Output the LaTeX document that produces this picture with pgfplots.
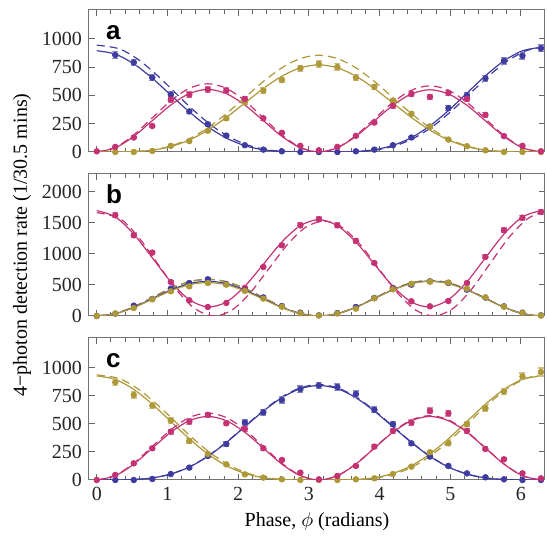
\documentclass[border=0pt]{standalone}
\usepackage{fontspec}
\setmainfont{Liberation Serif}
\newfontfamily\helv{Liberation Sans}
\usepackage{pgfplots}
\pgfplotsset{compat=1.18}
\usepgfplotslibrary{groupplots}

\definecolor{cB}{RGB}{62,60,160}
\definecolor{cM}{RGB}{196,50,116}
\definecolor{cO}{RGB}{174,152,56}

\pgfplotsset{
  panel/.style={
    scale only axis, width=228pt, height=71pt,
    xmin=-0.11, xmax=6.34, ymin=0,
    xtick={0,1,...,6}, minor x tick num=4,
    tick align=inside,
    axis line style={black!55, line width=0.5pt},
    major tick style={black!60, line width=0.5pt},
    minor tick style={black!60, line width=0.5pt},
    major tick length=3pt, minor tick length=2pt,
    ticklabel style={text=black!85, font=\rmfamily},
    /pgf/number format/assume math mode=true,
    /pgf/number format/1000 sep={},
  },
  fit/.style={smooth, no marks, line width=0.6pt},
  theo/.style={smooth, no marks, line width=0.6pt, dash pattern=on 4pt off 2.5pt},
  dat/.style={only marks, mark=*, mark size=1.4pt,
    error bars/y dir=both, error bars/y explicit,
    error bars/error mark options={rotate=90, mark size=1.5pt, line width=0.6pt}},
}
\tikzset{lab/.style={anchor=base west, font=\helv\bfseries\fontsize{13}{13}\selectfont}}

\begin{document}
\begin{tikzpicture}
\begin{groupplot}[
  group style={group size=1 by 3, vertical sep=11pt, xticklabels at=edge bottom},
  panel,
]
% ---------------- a ----------------
\nextgroupplot[ymax=1255, ytick={0,250,...,1000}]
\addplot[theo, cB] coordinates {(0,944) (0.3118,913) (0.5736,823) (0.8354,689) (1.0972,532) (1.359,374) (1.6208,236) (1.8826,130) (2.1444,59) (2.4062,20) (2.668,4) (2.9298,0) (3.1916,0) (3.4534,0) (3.7152,4) (3.977,20) (4.2388,58) (4.5006,127) (4.7624,231) (5.0242,366) (5.286,520) (5.5478,674) (5.8096,805) (6.0714,894) (6.2832,924)};
\addplot[fit, cB] coordinates {(0,895) (0.2618,865) (0.5236,779) (0.7854,652) (1.0472,503) (1.309,355) (1.5708,224) (1.8326,123) (2.0944,56) (2.3562,19) (2.618,4) (2.8798,0) (3.1416,0) (3.4034,0) (3.6652,4) (3.927,20) (4.1888,58) (4.4506,127) (4.7124,231) (4.9742,366) (5.236,520) (5.4978,674) (5.7596,805) (6.0214,894) (6.2832,925)};
\addplot[theo, cM] coordinates {(0,0) (0.2618,40) (0.5236,151) (0.7854,302) (1.0472,452) (1.309,563) (1.5708,603) (1.8326,563) (2.0944,452) (2.3562,302) (2.618,151) (2.8798,40) (3.1416,0) (3.4034,39) (3.6652,146) (3.927,293) (4.1888,439) (4.4506,546) (4.7124,585) (4.9742,546) (5.236,439) (5.4978,293) (5.7596,146) (6.0214,39) (6.2832,0)};
\addplot[fit, cM] coordinates {(0,0) (0.2618,37) (0.5236,138) (0.7854,277) (1.0472,415) (1.309,516) (1.5708,553) (1.8326,516) (2.0944,415) (2.3562,277) (2.618,138) (2.8798,37) (3.1416,0) (3.4034,37) (3.6652,138) (3.927,275) (4.1888,413) (4.4506,513) (4.7124,550) (4.9742,513) (5.236,413) (5.4978,275) (5.7596,138) (6.0214,37) (6.2832,0)};
\addplot[theo, cO] coordinates {(0,0) (0.2618,0) (0.5236,4) (0.7854,18) (1.0472,53) (1.309,117) (1.5708,214) (1.8326,339) (2.0944,481) (2.3562,623) (2.618,744) (2.8798,826) (3.1416,855) (3.4034,826) (3.6652,744) (3.927,623) (4.1888,481) (4.4506,339) (4.7124,214) (4.9742,117) (5.236,53) (5.4978,18) (5.7596,4) (6.0214,0) (6.2832,0)};
\addplot[fit, cO] coordinates {(0,0) (0.2618,0) (0.5236,3) (0.7854,16) (1.0472,48) (1.309,106) (1.5708,193) (1.8326,305) (2.0944,433) (2.3562,561) (2.618,670) (2.8798,744) (3.1416,770) (3.4034,744) (3.6652,670) (3.927,561) (4.1888,433) (4.4506,305) (4.7124,193) (4.9742,106) (5.236,48) (5.4978,16) (5.7596,3) (6.0214,0) (6.2832,0)};
\addplot[dat, cB, error bars/error bar style={cB!60}] table[row sep=\\, x index=0, y index=1, y error index=2] {
0.2618 857 29\\ 0.5236 791 28\\ 0.7854 657 26\\ 1.0472 507 23\\ 1.309 358 19\\ 1.5708 245 16\\ 1.8326 145 12\\ 2.0944 60 8\\ 2.3562 21 5\\ 2.618 6 3\\ 2.8798 0 2\\ 3.1416 0 2\\ 3.4034 0 2\\ 3.6652 6 3\\ 3.927 21 5\\ 4.1888 60 8\\ 4.4506 128 11\\ 4.7124 224 15\\ 4.9742 388 20\\ 5.236 501 22\\ 5.4978 651 26\\ 5.7596 806 28\\ 6.0214 851 29\\ 6.2832 916 30\\
};
\addplot[dat, cO, error bars/error bar style={cO!60}] table[row sep=\\, x index=0, y index=1, y error index=2] {
0.2618 0 2\\ 0.5236 0 2\\ 0.7854 9 3\\ 1.0472 54 7\\ 1.309 96 10\\ 1.5708 188 14\\ 1.8326 298 17\\ 2.0944 439 21\\ 2.3562 543 23\\ 2.618 636 25\\ 2.8798 740 27\\ 3.1416 776 28\\ 3.4034 752 27\\ 3.6652 657 26\\ 3.927 576 24\\ 4.1888 454 21\\ 4.4506 337 18\\ 4.7124 224 15\\ 4.9742 110 10\\ 5.236 51 7\\ 5.4978 15 4\\ 5.7596 0 2\\ 6.0214 0 2\\ 6.2832 0 2\\
};
\addplot[dat, cM, error bars/error bar style={cM!60}] table[row sep=\\, x index=0, y index=1, y error index=2] {
0 6 3\\ 0.2618 45 7\\ 0.5236 128 11\\ 0.7854 230 15\\ 1.0472 463 22\\ 1.309 507 23\\ 1.5708 552 23\\ 1.8326 543 23\\ 2.0944 469 22\\ 2.3562 298 17\\ 2.618 170 13\\ 2.8798 54 7\\ 3.1416 15 4\\ 3.4034 45 7\\ 3.6652 143 12\\ 3.927 260 16\\ 4.1888 409 20\\ 4.4506 513 23\\ 4.7124 487 22\\ 4.9742 522 23\\ 5.236 469 22\\ 5.4978 328 18\\ 5.7596 140 12\\ 6.0214 54 7\\ 6.2832 6 3\\
};
\node[lab] at (rel axis cs:0.022,0.789) {a};
% ---------------- b ----------------
\nextgroupplot[ymax=2290, ytick={0,500,...,2000},
  ylabel={4−photon detection rate (1/30.5 mins)},
  ylabel style={at={(rel axis cs:-0.147,0.5)}, anchor=center}]
\addplot[theo, cM] coordinates {(0,1668) (0.3318,1567) (0.5936,1266) (0.8554,853) (1.1172,437) (1.379,126) (1.6408,0) (1.9026,89) (2.1644,365) (2.4262,751) (2.688,1140) (2.9498,1427) (3.2116,1532) (3.4734,1427) (3.7352,1140) (3.997,751) (4.2588,365) (4.5206,89) (4.7824,0) (5.0442,126) (5.306,437) (5.5678,853) (5.8296,1266) (6.0914,1567) (6.2832,1668)};
\addplot[fit, cM] coordinates {(0,1700) (0.2618,1598) (0.5236,1320) (0.7854,938) (1.0472,552) (1.309,263) (1.5708,145) (1.8326,225) (2.0944,479) (2.3562,834) (2.618,1193) (2.8798,1457) (3.1416,1554) (3.4034,1457) (3.6652,1193) (3.927,834) (4.1888,479) (4.4506,225) (4.7124,145) (4.9742,263) (5.236,552) (5.4978,938) (5.7596,1320) (6.0214,1598) (6.2832,1700)};
\addplot[theo, cB] coordinates {(0,0) (0.2618,40) (0.5236,148) (0.7854,297) (1.0472,445) (1.309,553) (1.5708,593) (1.8326,553) (2.0944,445) (2.3562,297) (2.618,148) (2.8798,40) (3.1416,0) (3.4034,38) (3.6652,143) (3.927,287) (4.1888,430) (4.4506,535) (4.7124,573) (4.9742,535) (5.236,430) (5.4978,287) (5.7596,143) (6.0214,38) (6.2832,0)};
\addplot[theo, cO] coordinates {(0,0) (0.2618,40) (0.5236,148) (0.7854,297) (1.0472,445) (1.309,553) (1.5708,593) (1.8326,553) (2.0944,445) (2.3562,297) (2.618,148) (2.8798,40) (3.1416,0) (3.4034,38) (3.6652,143) (3.927,287) (4.1888,430) (4.4506,535) (4.7124,573) (4.9742,535) (5.236,430) (5.4978,287) (5.7596,143) (6.0214,38) (6.2832,0)};
\addplot[fit, cB] coordinates {(0,0) (0.2618,38) (0.5236,140) (0.7854,280) (1.0472,420) (1.309,522) (1.5708,560) (1.8326,522) (2.0944,420) (2.3562,280) (2.618,140) (2.8798,38) (3.1416,0) (3.4034,38) (3.6652,141) (3.927,283) (4.1888,424) (4.4506,527) (4.7124,565) (4.9742,527) (5.236,424) (5.4978,283) (5.7596,141) (6.0214,38) (6.2832,0)};
\addplot[fit, cO] coordinates {(0,0) (0.2618,36) (0.5236,135) (0.7854,270) (1.0472,405) (1.309,504) (1.5708,540) (1.8326,504) (2.0944,405) (2.3562,270) (2.618,135) (2.8798,36) (3.1416,0) (3.4034,38) (3.6652,140) (3.927,280) (4.1888,420) (4.4506,522) (4.7124,560) (4.9742,522) (5.236,420) (5.4978,280) (5.7596,140) (6.0214,38) (6.2832,0)};
\addplot[dat, cM, error bars/error bar style={cM!60}] table[row sep=\\, x index=0, y index=1, y error index=2] {
0.2618 1624 40\\ 0.5236 1301 36\\ 0.7854 1022 32\\ 1.0472 548 23\\ 1.309 253 16\\ 1.5708 145 12\\ 1.8326 210 14\\ 2.0944 452 21\\ 2.3562 790 28\\ 2.618 1140 34\\ 2.8798 1462 38\\ 3.1416 1559 39\\ 3.4034 1462 38\\ 3.6652 1210 35\\ 3.927 855 29\\ 4.1888 452 21\\ 4.4506 237 15\\ 4.7124 156 12\\ 4.9742 242 16\\ 5.236 532 23\\ 5.4978 952 31\\ 5.7596 1382 37\\ 6.0214 1586 40\\ 6.2832 1677 41\\
};
\addplot[dat, cB, error bars/error bar style={cB!60}] table[row sep=\\, x index=0, y index=1, y error index=2] {
0 0 2\\ 0.2618 38 6\\ 0.5236 167 13\\ 0.7854 275 17\\ 1.0472 441 21\\ 1.309 532 23\\ 1.5708 591 24\\ 1.8326 515 23\\ 2.0944 414 20\\ 2.3562 300 17\\ 2.618 161 13\\ 2.8798 54 7\\ 3.1416 11 3\\ 3.4034 48 7\\ 3.6652 145 12\\ 3.927 290 17\\ 4.1888 441 21\\ 4.4506 505 22\\ 4.7124 559 24\\ 4.9742 532 23\\ 5.236 425 21\\ 5.4978 296 17\\ 5.7596 156 12\\ 6.0214 54 7\\ 6.2832 11 3\\
};
\addplot[dat, cO, error bars/error bar style={cO!60}] table[row sep=\\, x index=0, y index=1, y error index=2] {
0 0 2\\ 0.2618 40 6\\ 0.5236 129 11\\ 0.7854 269 16\\ 1.0472 398 20\\ 1.309 478 22\\ 1.5708 532 23\\ 1.8326 505 22\\ 2.0944 405 20\\ 2.3562 280 17\\ 2.618 150 12\\ 2.8798 45 7\\ 3.1416 8 3\\ 3.4034 40 6\\ 3.6652 118 11\\ 3.927 285 17\\ 4.1888 430 21\\ 4.4506 520 23\\ 4.7124 555 24\\ 4.9742 540 23\\ 5.236 440 21\\ 5.4978 300 17\\ 5.7596 150 12\\ 6.0214 50 7\\ 6.2832 8 3\\
};
\node[lab] at (rel axis cs:0.022,0.789) {b};
% ---------------- c ----------------
\nextgroupplot[ymax=1262, ytick={0,250,...,1000},
  xlabel={Phase, $\phi$ (radians)},
  xlabel style={at={(rel axis cs:0.5,0)}, anchor=center, yshift=-21pt}]
\addplot[theo, cO] coordinates {(0,934) (0.3118,903) (0.5736,814) (0.8354,681) (1.0972,526) (1.359,370) (1.6208,234) (1.8826,128) (2.1444,58) (2.4062,20) (2.668,4) (2.9298,0) (3.1916,0) (3.4534,0) (3.7152,4) (3.977,20) (4.2388,58) (4.5006,128) (4.7624,234) (5.0242,370) (5.286,526) (5.5478,681) (5.8096,814) (6.0714,903) (6.2832,934)};
\addplot[fit, cO] coordinates {(0,925) (0.2618,894) (0.5236,805) (0.7854,674) (1.0472,520) (1.309,366) (1.5708,231) (1.8326,127) (2.0944,58) (2.3562,20) (2.618,4) (2.8798,0) (3.1416,0) (3.4034,0) (3.6652,4) (3.927,20) (4.1888,58) (4.4506,127) (4.7124,231) (4.9742,366) (5.236,520) (5.4978,674) (5.7596,805) (6.0214,894) (6.2832,925)};
\addplot[theo, cB] coordinates {(0,0) (0.2618,0) (0.5236,4) (0.7854,18) (1.0472,53) (1.309,116) (1.5708,212) (1.8326,336) (2.0944,477) (2.3562,618) (2.618,738) (2.8798,819) (3.1416,848) (3.4034,819) (3.6652,738) (3.927,618) (4.1888,477) (4.4506,336) (4.7124,212) (4.9742,116) (5.236,53) (5.4978,18) (5.7596,4) (6.0214,0) (6.2832,0)};
\addplot[fit, cB] coordinates {(0,0) (0.2618,0) (0.5236,4) (0.7854,18) (1.0472,53) (1.309,115) (1.5708,210) (1.8326,333) (2.0944,473) (2.3562,612) (2.618,731) (2.8798,812) (3.1416,840) (3.4034,812) (3.6652,731) (3.927,612) (4.1888,473) (4.4506,333) (4.7124,210) (4.9742,115) (5.236,53) (5.4978,18) (5.7596,4) (6.0214,0) (6.2832,0)};
\addplot[theo, cM] coordinates {(0,0) (0.2618,40) (0.5236,149) (0.7854,298) (1.0472,446) (1.309,555) (1.5708,595) (1.8326,555) (2.0944,446) (2.3562,298) (2.618,149) (2.8798,40) (3.1416,0) (3.4034,38) (3.6652,143) (3.927,286) (4.1888,429) (4.4506,534) (4.7124,572) (4.9742,534) (5.236,429) (5.4978,286) (5.7596,143) (6.0214,38) (6.2832,0)};
\addplot[fit, cM] coordinates {(0,0) (0.2618,38) (0.5236,141) (0.7854,283) (1.0472,424) (1.309,527) (1.5708,565) (1.8326,527) (2.0944,424) (2.3562,283) (2.618,141) (2.8798,38) (3.1416,0) (3.4034,38) (3.6652,141) (3.927,283) (4.1888,424) (4.4506,527) (4.7124,565) (4.9742,527) (5.236,424) (5.4978,283) (5.7596,141) (6.0214,38) (6.2832,0)};
\addplot[dat, cB, error bars/error bar style={cB!60}] table[row sep=\\, x index=0, y index=1, y error index=2] {
0.2618 0 2\\ 0.5236 0 2\\ 0.7854 9 3\\ 1.0472 53 7\\ 1.309 110 10\\ 1.5708 214 15\\ 1.8326 320 18\\ 2.0944 510 23\\ 2.3562 602 25\\ 2.618 712 27\\ 2.8798 807 28\\ 3.1416 840 29\\ 3.4034 825 29\\ 3.6652 763 28\\ 3.927 623 25\\ 4.1888 496 22\\ 4.4506 326 18\\ 4.7124 208 14\\ 4.9742 125 11\\ 5.236 59 8\\ 5.4978 24 5\\ 5.7596 6 3\\ 6.0214 0 2\\ 6.2832 0 2\\
};
\addplot[dat, cO, error bars/error bar style={cO!60}] table[row sep=\\, x index=0, y index=1, y error index=2] {
0.2618 869 29\\ 0.5236 757 28\\ 0.7854 662 26\\ 1.0472 528 23\\ 1.309 347 19\\ 1.5708 231 15\\ 1.8326 139 12\\ 2.0944 50 7\\ 2.3562 21 5\\ 2.618 6 3\\ 2.8798 0 2\\ 3.1416 0 2\\ 3.4034 0 2\\ 3.6652 6 3\\ 3.927 15 4\\ 4.1888 53 7\\ 4.4506 119 11\\ 4.7124 246 16\\ 4.9742 326 18\\ 5.236 496 22\\ 5.4978 638 25\\ 5.7596 786 28\\ 6.0214 920 30\\ 6.2832 960 35\\
};
\addplot[dat, cM, error bars/error bar style={cM!60}] table[row sep=\\, x index=0, y index=1, y error index=2] {
0 0 2\\ 0.2618 45 7\\ 0.5236 148 12\\ 0.7854 282 17\\ 1.0472 430 21\\ 1.309 519 23\\ 1.5708 579 24\\ 1.8326 504 22\\ 2.0944 454 21\\ 2.3562 282 17\\ 2.618 178 13\\ 2.8798 65 8\\ 3.1416 6 3\\ 3.4034 36 6\\ 3.6652 125 11\\ 3.927 297 17\\ 4.1888 436 21\\ 4.4506 510 23\\ 4.7124 614 25\\ 4.9742 593 24\\ 5.236 436 21\\ 5.4978 276 17\\ 5.7596 184 14\\ 6.0214 59 8\\ 6.2832 15 4\\
};
\node[lab] at (rel axis cs:0.022,0.789) {c};
\end{groupplot}
% margins as in the reference
\path (group c1r1.north east) ++(1pt,5pt);
\path (group c1r2.west) ++(-44.5pt,0pt);
\path (group c1r3.south) ++(0pt,-27.5pt);
\end{tikzpicture}
\end{document}
